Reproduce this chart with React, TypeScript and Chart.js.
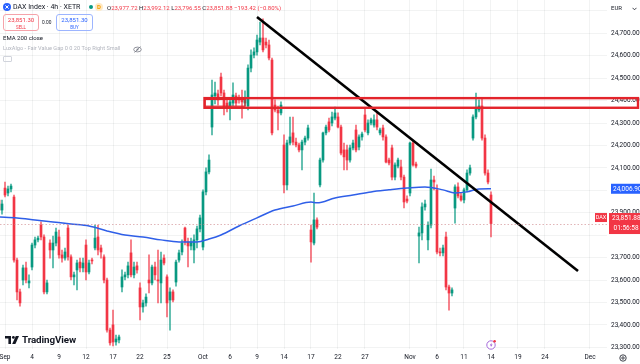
import React, { useEffect, useRef } from 'react';
import { Chart, registerables } from 'chart.js';

Chart.register(...registerables);
Chart.defaults.font.family = 'Roboto, "Noto Sans", sans-serif';

// ---------------- data (4h bars, bar 0 = Sep 1 09:00) ----------------
const firstBar = -2;
const opens = [
  23957, 23912, 24010, 23988, 24006, 23970, 23689, 23547, 23600, 23654,
  23587, 23658, 23756, 23779, 23845, 23792, 23547, 23765, 23734, 23765,
  23792, 23712, 23698, 23832, 23703, 23614, 23645, 23680, 23654, 23756,
  23636, 23689, 23743, 23792, 23743, 23703, 23600, 23377, 23400, 23324,
  23333, 23569, 23614, 23623, 23721, 23623, 23663, 23565, 23480, 23498,
  23600, 23587, 23658, 23600, 23587, 23698, 23614, 23511, 23547, 23591,
  23689, 23725, 23832, 23770, 23752, 23734, 23779, 23828, 23747, 23993,
  24082, 24282, 24421, 24430, 24505, 24434, 24389, 24367, 24389, 24421,
  24412, 24412, 24389, 24376, 24545, 24603, 24617, 24661, 24679, 24661,
  24648, 24581, 24380, 24358, 24345, 24202, 24024, 24211, 24256, 24215,
  24202, 24180, 24215, 24233, 23823, 23765, 23868, 24024, 24135, 24256,
  24305, 24300, 24322, 24327, 24282, 24180, 24180, 24135, 24189, 24269,
  24193, 24238, 24336, 24256, 24300, 24291, 24314, 24256, 24278, 24238,
  24135, 24189, 24059, 24108, 24104, 24059, 23961, 23988, 24211, 24117,
  23796, 23810, 23926, 23779, 23845, 24046, 24002, 23725, 23721, 23792,
  23569, 23542, 23921, 24015, 23975, 23957, 24002, 24077, 24233, 24327,
  24358, 24376, 24233, 24077, 23979,
];
const highs = [
  23975, 23957, 24037, 24019, 24028, 23979, 23698, 23560, 23667, 23680,
  23623, 23765, 23792, 23796, 23859, 23801, 23600, 23779, 23796, 23832,
  23823, 23734, 23743, 23845, 23712, 23636, 23689, 23698, 23698, 23779,
  23689, 23698, 23845, 23845, 23756, 23712, 23609, 23386, 23466, 23355,
  23355, 23645, 23636, 23680, 23779, 23680, 23680, 23587, 23511, 23538,
  23712, 23667, 23680, 23734, 23725, 23712, 23623, 23565, 23556, 23689,
  23734, 23779, 23836, 23787, 23787, 23801, 23841, 23890, 24002, 24100,
  24158, 24492, 24483, 24447, 24523, 24447, 24403, 24412, 24479, 24434,
  24425, 24447, 24443, 24559, 24626, 24635, 24692, 24750, 24764, 24679,
  24670, 24590, 24403, 24376, 24394, 24247, 24224, 24327, 24327, 24233,
  24211, 24224, 24242, 24291, 23845, 23988, 23877, 24144, 24260, 24291,
  24322, 24349, 24371, 24345, 24291, 24211, 24202, 24202, 24224, 24291,
  24247, 24260, 24367, 24314, 24322, 24336, 24345, 24278, 24291, 24247,
  24144, 24202, 24122, 24144, 24135, 24068, 23975, 24215, 24224, 24126,
  23836, 23944, 23957, 23859, 24095, 24064, 24024, 23743, 23756, 23814,
  23578, 23565, 24024, 24033, 23988, 24010, 24091, 24113, 24336, 24434,
  24403, 24407, 24247, 24091, 23993,
];
const lows = [
  23903, 23894, 23970, 23975, 23993, 23680, 23511, 23484, 23578, 23587,
  23565, 23645, 23743, 23770, 23779, 23538, 23538, 23698, 23654, 23752,
  23698, 23680, 23689, 23689, 23600, 23578, 23556, 23636, 23636, 23600,
  23627, 23672, 23734, 23712, 23698, 23587, 23368, 23310, 23306, 23310,
  23320, 23547, 23600, 23609, 23614, 23609, 23631, 23422, 23457, 23484,
  23542, 23578, 23600, 23498, 23498, 23667, 23435, 23377, 23502, 23573,
  23680, 23712, 23756, 23658, 23734, 23676, 23743, 23814, 23734, 23979,
  24073, 24247, 24385, 24380, 24421, 24336, 24349, 24314, 24376, 24376,
  24389, 24322, 24376, 24358, 24528, 24590, 24603, 24648, 24617, 24635,
  24581, 24247, 24349, 24269, 24336, 23988, 24002, 24202, 24202, 24193,
  24171, 24091, 24202, 24224, 23680, 23756, 23828, 24015, 24126, 24247,
  24260, 24287, 24314, 24278, 24158, 24091, 24091, 24126, 24180, 24171,
  24180, 24224, 24260, 24247, 24291, 24282, 24269, 24247, 24224, 24122,
  24113, 24046, 24046, 24100, 24046, 23921, 23944, 23975, 24108, 24100,
  23676, 23779, 23912, 23734, 23832, 24002, 23716, 23707, 23707, 23556,
  23466, 23529, 23854, 23966, 23952, 23944, 23993, 24068, 24224, 24318,
  24349, 24224, 24068, 24028, 23792,
];
const closes = [
  23912, 23939, 23979, 24006, 24019, 23689, 23547, 23498, 23654, 23600,
  23596, 23756, 23779, 23787, 23792, 23547, 23587, 23734, 23765, 23814,
  23712, 23698, 23725, 23703, 23614, 23623, 23676, 23654, 23676, 23636,
  23676, 23685, 23787, 23734, 23725, 23600, 23377, 23320, 23324, 23337,
  23346, 23614, 23623, 23663, 23623, 23658, 23645, 23480, 23498, 23524,
  23587, 23658, 23623, 23596, 23689, 23676, 23498, 23547, 23511, 23680,
  23721, 23765, 23770, 23752, 23770, 23779, 23828, 23877, 23993, 24082,
  24135, 24425, 24434, 24403, 24434, 24371, 24367, 24394, 24425, 24389,
  24403, 24394, 24412, 24545, 24603, 24617, 24670, 24679, 24626, 24648,
  24590, 24256, 24358, 24345, 24380, 24024, 24211, 24238, 24215, 24202,
  24180, 24215, 24233, 24278, 23770, 23868, 23836, 24135, 24256, 24282,
  24269, 24327, 24345, 24282, 24166, 24149, 24135, 24189, 24211, 24180,
  24238, 24251, 24269, 24300, 24314, 24314, 24282, 24269, 24238, 24126,
  24122, 24059, 24113, 24135, 24059, 23948, 23952, 24211, 24113, 24108,
  23810, 23926, 23939, 23845, 24046, 24037, 23725, 23721, 23743, 23569,
  23542, 23556, 24015, 23975, 23957, 24002, 24077, 24100, 24327, 24367,
  24376, 24233, 24077, 24037, 23851.88,
];

// EMA 200 (close), read at sampled bars
const emaBars = [-2, 4, 10, 16, 22, 28, 34, 40, 46, 52, 58, 64, 68, 72, 78, 84, 90, 96, 102, 104, 110, 116, 122, 128, 134, 140, 146, 150, 154, 158, 162];
const emaValues = [23881, 23877, 23868, 23859, 23850, 23841, 23819, 23801, 23792, 23779, 23770, 23770, 23783, 23801, 23841, 23877, 23912, 23930, 23948, 23944, 23966, 23979, 23993, 24002, 24010, 24015, 24002, 23988, 23993, 24006, 24006.9];

// drawings
const trendBars = [84, 191];
const trendValues = [24773, 23640];
const zoneBars = [66.5, 211];
const zoneValues = [24411, 24368];
const fvgBars = [66.7, 80];
const fvgValues = [24405, 24375];

// axes
const tickBars = [0, 9, 18, 27, 36, 45, 54, 66, 75, 84, 93, 102, 111, 120, 135, 144, 153, 162, 171, 180, 195];
const tickLabels = ['Sep', '4', '9', '12', '17', '22', '25', 'Oct', '6', '9', '14', '17', '22', '27', 'Nov', '6', '11', '14', '19', '24', 'Dec'];
const hiddenPriceTicks = [23800, 24800];
const xRange = [-1.667, 200.667];
const yRange = [23292.5, 24848.5];

// header / labels
const lastPrice = 23851.88;
const emaLast = 24006.9;
const countdown = '01:56:58';
const symbolTag = 'DAX';
const ohlcLetters = ['O', 'H', 'L', 'C'];
const ohlcValues = ['23,977.72', '23,992.12', '23,796.55', '23,851.88'];
const changeText = '\u2212193.42 (\u22120.80%)';
const sellPrice = '23,851.30';
const buyPrice = '23,851.30';
const spreadText = '0.00';

const UP = '#089981';
const DOWN = '#f23645';

const fmt = (v: number) =>
  Number(v).toLocaleString('en-US', { minimumFractionDigits: 2, maximumFractionDigits: 2 });

const overlayPlugin = {
  id: 'tvOverlay',
  afterDatasetsDraw(chart: any) {
    const { ctx, chartArea: a, scales } = chart;
    const py = Math.round(scales.y.getPixelForValue(lastPrice)) + 0.5;
    ctx.save();
    ctx.beginPath();
    ctx.rect(a.left, a.top, a.right - a.left, a.bottom - a.top);
    ctx.clip();
    ctx.strokeStyle = 'rgba(200,120,125,0.55)';
    ctx.lineWidth = 1;
    ctx.setLineDash([1.5, 2]);
    ctx.beginPath();
    ctx.moveTo(a.left, py);
    ctx.lineTo(a.right, py);
    ctx.stroke();
    ctx.restore();
  },
  afterDraw(chart: any) {
    const { ctx, chartArea: a, scales } = chart;
    const x = scales.x;
    const y = scales.y;
    ctx.save();
    // resistance zone rectangle
    const zx0 = x.getPixelForValue(zoneBars[0]);
    const zx1 = x.getPixelForValue(zoneBars[1]);
    const zy0 = y.getPixelForValue(zoneValues[0]);
    const zy1 = y.getPixelForValue(zoneValues[1]);
    ctx.strokeStyle = '#e3242b';
    ctx.lineWidth = 2.4;
    ctx.strokeRect(zx0, zy0, zx1 - zx0, zy1 - zy0);
    // fair value gap box
    const fx0 = x.getPixelForValue(fvgBars[0]);
    const fx1 = x.getPixelForValue(fvgBars[1]);
    const fy0 = y.getPixelForValue(fvgValues[0]);
    const fy1 = y.getPixelForValue(fvgValues[1]);
    ctx.lineWidth = 1.2;
    ctx.strokeRect(fx0, fy0, fx1 - fx0, fy1 - fy0);

    // EMA value label
    ctx.font = '6.5px Roboto';
    ctx.textBaseline = 'middle';
    ctx.textAlign = 'left';
    const by = y.getPixelForValue(emaLast);
    ctx.fillStyle = '#2962ff';
    ctx.fillRect(a.right + 4, by - 5, 31, 10);
    ctx.fillStyle = '#ffffff';
    ctx.fillText(fmt(emaLast), a.right + 6, by + 0.5);

    // last price label with countdown
    const py = y.getPixelForValue(lastPrice);
    ctx.fillStyle = DOWN;
    ctx.fillRect(a.right + 2, py - 10.5, 33, 21);
    ctx.fillStyle = '#ffffff';
    ctx.fillText(fmt(lastPrice), a.right + 5, py - 5);
    ctx.fillText(countdown, a.right + 6.5, py + 5);
    // symbol tag
    ctx.fillStyle = DOWN;
    ctx.fillRect(a.right - 12, py - 10.5, 12, 9);
    ctx.fillStyle = '#ffffff';
    ctx.font = '5.5px Roboto';
    ctx.textAlign = 'center';
    ctx.fillText(symbolTag, a.right - 6, py - 5.8);
    ctx.restore();
  },
};

const abs = (s: any) => ({ position: 'absolute' as const, whiteSpace: 'nowrap' as const, lineHeight: 1, ...s });

export default function App() {
  const ref = useRef<HTMLCanvasElement>(null);

  useEffect(() => {
    document.body.style.margin = '0';
    const n = Math.min(opens.length, highs.length, lows.length, closes.length);
    const bars: number[] = [];
    for (let k = 0; k < n; k++) bars.push(firstBar + k);
    const colors = bars.map((_, k) => (closes[k] >= opens[k] ? UP : DOWN));
    const wickColors = bars.map((_, k) => (closes[k] >= opens[k] ? 'rgba(8,153,129,0.75)' : 'rgba(242,54,69,0.75)'));

    const chart = new Chart(ref.current as HTMLCanvasElement, {
      type: 'bar',
      data: {
        datasets: [
          {
            type: 'line',
            data: trendBars.map((b, k) => ({ x: b, y: trendValues[k] })),
            borderColor: '#000000',
            borderWidth: 2.6,
            pointRadius: 0,
            order: 1,
          } as any,
          {
            type: 'line',
            data: emaBars.map((b, k) => ({ x: b, y: emaValues[k] })),
            borderColor: '#2f5fe8',
            borderWidth: 1.5,
            pointRadius: 0,
            cubicInterpolationMode: 'monotone',
            order: 2,
          } as any,
          {
            type: 'bar',
            data: bars.map((b, k) => ({ x: b, y: [opens[k], closes[k]] })),
            backgroundColor: colors,
            borderWidth: 0,
            barThickness: 2,
            minBarLength: 1,
            grouped: false,
            order: 3,
          } as any,
          {
            type: 'bar',
            data: bars.map((b, k) => ({ x: b, y: [lows[k], highs[k]] })),
            backgroundColor: wickColors,
            borderWidth: 0,
            barThickness: 1,
            grouped: false,
            order: 4,
          } as any,
        ],
      },
      options: {
        responsive: false,
        animation: false,
        devicePixelRatio: 1,
        layout: { padding: 0 },
        plugins: { legend: { display: false }, tooltip: { enabled: false } },
        scales: {
          x: {
            type: 'linear',
            min: xRange[0],
            max: xRange[1],
            offset: false,
            border: { display: false },
            grid: { color: 'rgba(42,46,57,0.06)', drawTicks: false, offset: false },
            afterBuildTicks: (s: any) => {
              s.ticks = tickBars.map((v) => ({ value: v }));
            },
            afterFit: (s: any) => {
              s.height = 15;
              s.paddingLeft = 0;
              s.paddingRight = 0;
            },
            ticks: {
              autoSkip: false,
              maxRotation: 0,
              padding: 4,
              color: '#131722',
              font: { size: 6.5 },
              callback: (v: any) => {
                const k = tickBars.indexOf(Number(v));
                return k >= 0 ? tickLabels[k] : '';
              },
            },
          },
          y: {
            type: 'linear',
            position: 'right',
            min: yRange[0],
            max: yRange[1],
            border: { display: false },
            grid: { color: 'rgba(42,46,57,0.06)', drawTicks: false },
            afterFit: (s: any) => {
              s.width = 33;
              s.paddingTop = 0;
              s.paddingBottom = 0;
            },
            ticks: {
              stepSize: 100,
              includeBounds: false,
              padding: 4,
              crossAlign: 'near',
              color: '#131722',
              font: { size: 6.5 },
              callback: (v: any) => (hiddenPriceTicks.includes(Number(v)) ? '' : fmt(Number(v))),
            },
          },
        },
      } as any,
      plugins: [overlayPlugin],
    });
    return () => chart.destroy();
  }, []);

  return (
    <div style={{ position: 'fixed', left: 0, top: 0, width: 640, height: 364, overflow: 'hidden', background: '#ffffff', fontFamily: 'Roboto, "Noto Sans", sans-serif', color: '#131722' }}>
      <canvas ref={ref} width={640} height={364} style={{ position: 'absolute', left: 0, top: 0 }} />

      {/* header */}
      <svg style={abs({ left: 3, top: 3 })} width="8" height="8" viewBox="0 0 8 8">
        <circle cx="4" cy="4" r="4" fill="#2962ff" />
        <path d="M2.4 2.4 L5.6 5.6 M5.6 2.4 L2.4 5.6" stroke="#fff" strokeWidth="1" />
      </svg>
      <div style={abs({ left: 13, top: 3.5, fontSize: 7 })}>DAX Index · 4h · XETR</div>
      <div style={abs({ left: 89, top: 5, width: 4, height: 4, borderRadius: '50%', background: UP })} />
      <div style={abs({ left: 95, top: 3, width: 8, height: 8, borderRadius: '50%', background: '#ffe9c4', color: '#f59f00', fontSize: 6, fontWeight: 700, textAlign: 'center', lineHeight: '8px' })}>D</div>
      <div style={abs({ left: 107, top: 4.5, fontSize: 6 })}>
        {ohlcLetters.map((l, k) => (
          <span key={l}>
            <span style={{ color: '#131722' }}>{l}</span>
            <span style={{ color: DOWN }}>{ohlcValues[k]}</span>{' '}
          </span>
        ))}
        <span style={{ color: DOWN }}>{changeText}</span>
      </div>

      <div style={abs({ left: 3, top: 14, width: 34, height: 15, border: '1px solid #f5a3aa', borderRadius: 3, color: DOWN, textAlign: 'center' })}>
        <div style={{ fontSize: 6, marginTop: 2 }}>{sellPrice}</div>
        <div style={{ fontSize: 6, marginTop: 1, transform: 'scale(0.75)' }}>SELL</div>
      </div>
      <div style={abs({ left: 42, top: 20, fontSize: 6, transform: 'scale(0.8)', transformOrigin: 'left top' })}>{spreadText}</div>
      <div style={abs({ left: 56, top: 14, width: 35, height: 15, border: '1px solid #9db5ff', borderRadius: 3, color: '#2962ff', textAlign: 'center' })}>
        <div style={{ fontSize: 6, marginTop: 2 }}>{buyPrice}</div>
        <div style={{ fontSize: 6, marginTop: 1, transform: 'scale(0.75)' }}>BUY</div>
      </div>

      <div style={abs({ left: 3, top: 35, fontSize: 6 })}>EMA 200 close</div>
      <div style={abs({ left: 3, top: 46, fontSize: 5.6, color: '#b2b5be' })}>LuxAlgo - Fair Value Gap 0 0 20 Top Right Small</div>
      <svg style={abs({ left: 133, top: 46 })} width="9" height="7" viewBox="0 0 9 7">
        <ellipse cx="4.5" cy="3.5" rx="3.8" ry="2.4" fill="none" stroke="#787b86" strokeWidth="0.8" />
        <circle cx="4.5" cy="3.5" r="1" fill="#787b86" />
        <path d="M1.5 6.5 L7.5 0.5" stroke="#787b86" strokeWidth="0.8" />
      </svg>
      <div style={abs({ left: 3, top: 56, width: 7, height: 4, border: '1px solid #d1d4dc', borderRadius: 1 })} />

      {/* right top currency */}
      <div style={abs({ left: 611, top: 5, fontSize: 6 })}>EUR</div>
      <svg style={abs({ left: 632, top: 7 })} width="5" height="4" viewBox="0 0 5 4">
        <path d="M0.5 0.8 L2.5 2.8 L4.5 0.8" fill="none" stroke="#131722" strokeWidth="0.8" />
      </svg>

      {/* TradingView watermark */}
      <svg style={abs({ left: 5, top: 336 })} width="15" height="8" viewBox="0 0 15 8">
        <path d="M0 0 H6 V8 H3.4 V2.6 H0 Z" fill="#131722" />
        <circle cx="8.4" cy="1.4" r="1.4" fill="#131722" />
        <path d="M10.8 0 H14 L10.4 8 H7.2 Z" fill="#131722" />
      </svg>
      <div style={abs({ left: 22, top: 334.5, fontSize: 9.8, fontWeight: 700, letterSpacing: -0.1 })}>TradingView</div>

      {/* lightning marker */}
      <svg style={abs({ left: 486, top: 339 })} width="11" height="11" viewBox="0 0 11 11">
        <circle cx="5" cy="6" r="4.2" fill="#fff" stroke="#9c5ad6" strokeWidth="0.9" />
        <path d="M5.6 3.4 L3.8 6.4 H5.2 L4.6 8.6 L6.6 5.4 H5.2 Z" fill="#9c5ad6" />
        <circle cx="8.6" cy="2.2" r="1.3" fill={DOWN} />
      </svg>

      {/* settings gear */}
      <svg style={abs({ left: 619, top: 354 })} width="8" height="8" viewBox="0 0 8 8">
        <circle cx="4" cy="4" r="3.2" fill="none" stroke="#131722" strokeWidth="0.8" />
        <circle cx="4" cy="4" r="1.2" fill="none" stroke="#131722" strokeWidth="0.8" />
      </svg>
    </div>
  );
}
